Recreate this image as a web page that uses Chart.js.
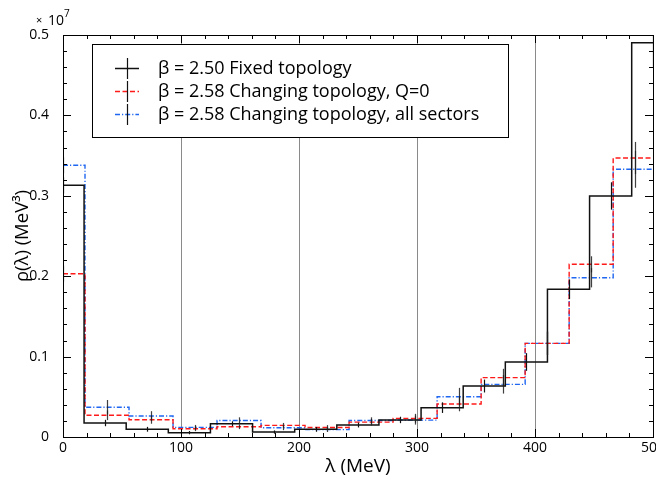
<!DOCTYPE html>
<html><head><meta charset="utf-8">
<script src="https://cdn.jsdelivr.net/npm/chart.js@4.4.1/dist/chart.umd.min.js"></script>
<style>html,body{margin:0;padding:0;background:#fff}#wrap{width:656px;height:477px;position:relative}</style>
</head><body><div id="wrap"><canvas id="c"></canvas></div>
<script>
// ---- data (rho in units of 1e7 MeV^3) ----
const binWidthFixed = 35.7;      // MeV, beta = 2.50
const binWidthChanging = 37.3;   // MeV, beta = 2.58
const fixedValues = [0.313, 0.0174, 0.0096, 0.0054, 0.0165, 0.0062, 0.0095, 0.0149, 0.0212, 0.0365, 0.0634, 0.0933, 0.1837, 0.2998, 0.4904];
const fixedErrors = [0.010, 0.004, 0.003, 0.002, 0.003, 0.002, 0.003, 0.003, 0.004, 0.0066, 0.008, 0.011, 0.012, 0.017, 0.03];
const q0Values = [0.203, 0.027, 0.0215, 0.0103, 0.0128, 0.0145, 0.0118, 0.0185, 0.0232, 0.041, 0.0738, 0.1165, 0.2148, 0.347];
const q0Errors = [0.010, 0.006, 0.005, 0.003, 0.003, 0.003, 0.003, 0.004, 0.0056, 0.009, 0.011, 0.0145, 0.010, 0.02];
const allValues = [0.338, 0.037, 0.0261, 0.012, 0.0205, 0.0115, 0.0092, 0.0205, 0.021, 0.0501, 0.0655, 0.1165, 0.1981, 0.333];
const allErrors = [0.010, 0.009, 0.006, 0.003, 0.004, 0.003, 0.003, 0.004, 0.0056, 0.011, 0.0115, 0.0145, 0.012, 0.023];
const seriesLabels = ['β = 2.50 Fixed topology', 'β = 2.58 Changing topology, Q=0', 'β = 2.58 Changing topology, all sectors'];
const xTickLabels = [0, 100, 200, 300, 400, 500];
const yTickLabels = [0, 0.1, 0.2, 0.3, 0.4, 0.5];
const xTitle = 'λ (MeV)';
const yTitle = 'ρ(λ) (MeV³)';

const FONT = '"Open Sans"';
const colors = ['#111111', '#ff1a1a', '#1f66f0'];
const dashes = [[], [5, 2.5], [5, 2, 1.2, 2]];

function stepPoints(values, w) {
  const pts = values.map((v, k) => ({x: Math.max(0, (k - 0.5) * w), y: v}));
  pts.push({x: (values.length - 0.5) * w, y: values[values.length - 1]});
  return pts;
}
const seriesDefs = [
  {values: fixedValues, errors: fixedErrors, w: binWidthFixed},
  {values: q0Values, errors: q0Errors, w: binWidthChanging},
  {values: allValues, errors: allErrors, w: binWidthChanging}
];

const errorBars = {
  id: 'errorBars',
  afterDatasetsDraw(chart) {
    const {ctx, chartArea: a, scales: {x, y}} = chart;
    ctx.save();
    ctx.beginPath(); ctx.rect(a.left, a.top, a.right - a.left, a.bottom - a.top); ctx.clip();
    [2, 1, 0].forEach(i => {
      const s = seriesDefs[i];
      ctx.strokeStyle = i === 0 ? '#111' : 'rgba(30,30,30,0.85)';
      ctx.lineWidth = 1.2;
      s.values.forEach((v, k) => {
        const px = Math.round(x.getPixelForValue(k * s.w)) + 0.5;
        ctx.beginPath();
        ctx.moveTo(px, y.getPixelForValue(v - s.errors[k]));
        ctx.lineTo(px, y.getPixelForValue(v + s.errors[k]));
        ctx.stroke();
      });
    });
    ctx.restore();
  }
};

const frame = {
  id: 'frame',
  afterDraw(chart) {
    const {ctx, chartArea: a, scales: {x, y}} = chart;
    ctx.save();
    ctx.strokeStyle = '#000'; ctx.lineWidth = 1;
    ctx.strokeRect(Math.round(a.left) + 0.5, Math.round(a.top) + 0.5, Math.round(a.right - a.left), Math.round(a.bottom - a.top));
    for (let v = 0; v <= 500; v += 20) {
      const px = Math.round(x.getPixelForValue(v)) + 0.5;
      const len = v % 100 === 0 ? 8 : 4;
      ctx.beginPath();
      ctx.moveTo(px, a.bottom); ctx.lineTo(px, a.bottom - len);
      ctx.moveTo(px, a.top); ctx.lineTo(px, a.top + len);
      ctx.stroke();
    }
    for (let i = 0; i <= 25; i++) {
      const v = i * 0.02;
      const py = Math.round(y.getPixelForValue(v)) + 0.5;
      const len = i % 5 === 0 ? 8 : 4;
      ctx.beginPath();
      ctx.moveTo(a.left, py); ctx.lineTo(a.left + len, py);
      ctx.moveTo(a.right, py); ctx.lineTo(a.right - len, py);
      ctx.stroke();
    }
    // exponent label
    ctx.fillStyle = '#000';
    ctx.textBaseline = 'alphabetic'; ctx.textAlign = 'left';
    ctx.font = `11px ${FONT}`;
    ctx.fillText('×', 36, 24);
    ctx.font = `14px ${FONT}`;
    ctx.fillText('10', 48, 25);
    ctx.font = `10px ${FONT}`;
    ctx.fillText('7', 64, 17);
    // legend
    const L = {l: 92, t: 44, r: 508, b: 137};
    ctx.fillStyle = '#fff';
    ctx.fillRect(L.l, L.t, L.r - L.l, L.b - L.t);
    ctx.strokeStyle = '#000'; ctx.lineWidth = 1;
    ctx.strokeRect(L.l + 0.5, L.t + 0.5, L.r - L.l, L.b - L.t);
    const rows = [68, 91, 114];
    rows.forEach((ry, i) => {
      ctx.save();
      ctx.strokeStyle = colors[i]; ctx.lineWidth = 1.5; ctx.setLineDash(dashes[i]);
      ctx.beginPath(); ctx.moveTo(115, ry + 0.5); ctx.lineTo(139, ry + 0.5); ctx.stroke();
      ctx.restore();
      ctx.strokeStyle = '#111'; ctx.lineWidth = 1.2;
      ctx.beginPath(); ctx.moveTo(127.5, ry - 10); ctx.lineTo(127.5, ry + 11); ctx.stroke();
      ctx.fillStyle = '#000'; ctx.font = `18px ${FONT}`; ctx.textBaseline = 'middle'; ctx.textAlign = 'left';
      ctx.fillText(seriesLabels[i], 158, ry + 1);
    });
    ctx.restore();
  }
};

new Chart(document.getElementById('c'), {
  type: 'line',
  data: {
    datasets: seriesDefs.map((s, i) => ({
      label: seriesLabels[i],
      data: stepPoints(s.values, s.w),
      stepped: 'before',
      borderColor: colors[i],
      borderWidth: i === 0 ? 1.5 : 1.4,
      borderDash: dashes[i],
      pointRadius: 0,
      fill: false,
      order: i,
      clip: 0
    }))
  },
  options: {
    responsive: true,
    maintainAspectRatio: false,
    animation: false,
    events: [],
    layout: {padding: {top: 35, right: 3, left: 0, bottom: 0}},
    plugins: {legend: {display: false}, tooltip: {enabled: false}},
    scales: {
      x: {
        type: 'linear', min: 0, max: 500,
        afterBuildTicks: sc => { sc.ticks = xTickLabels.map(v => ({value: v})); },
        afterFit: sc => { sc.height = 40; sc.paddingLeft = 0; sc.paddingRight = 0; },
        ticks: {font: {family: 'Open Sans', size: 14}, color: '#000', padding: 3, maxRotation: 0, autoSkip: false,
                callback: v => String(v)},
        grid: {drawTicks: false, color: c => (c.tick && c.tick.value > 0 && c.tick.value < 500) ? '#8a8a8a' : 'rgba(0,0,0,0)', lineWidth: 1},
        border: {display: false},
        title: {display: true, text: xTitle, font: {family: 'Open Sans', size: 19}, color: '#000', padding: {top: 0, bottom: -1}}
      },
      y: {
        type: 'linear', min: 0, max: 0.5,
        afterBuildTicks: sc => { sc.ticks = yTickLabels.map(v => ({value: v})); },
        afterFit: sc => { sc.width = 63; sc.paddingTop = 0; sc.paddingBottom = 0; },
        ticks: {font: {family: 'Open Sans', size: 14}, color: '#000', padding: 6,
                callback: v => v === 0 ? '0' : v.toFixed(1)},
        grid: {display: false},
        border: {display: false},
        title: {display: true, text: yTitle, font: {family: 'Open Sans', size: 18.5}, color: '#000', padding: {top: 12, bottom: 0}}
      }
    }
  },
  plugins: [errorBars, frame]
});
</script>
</body></html>
